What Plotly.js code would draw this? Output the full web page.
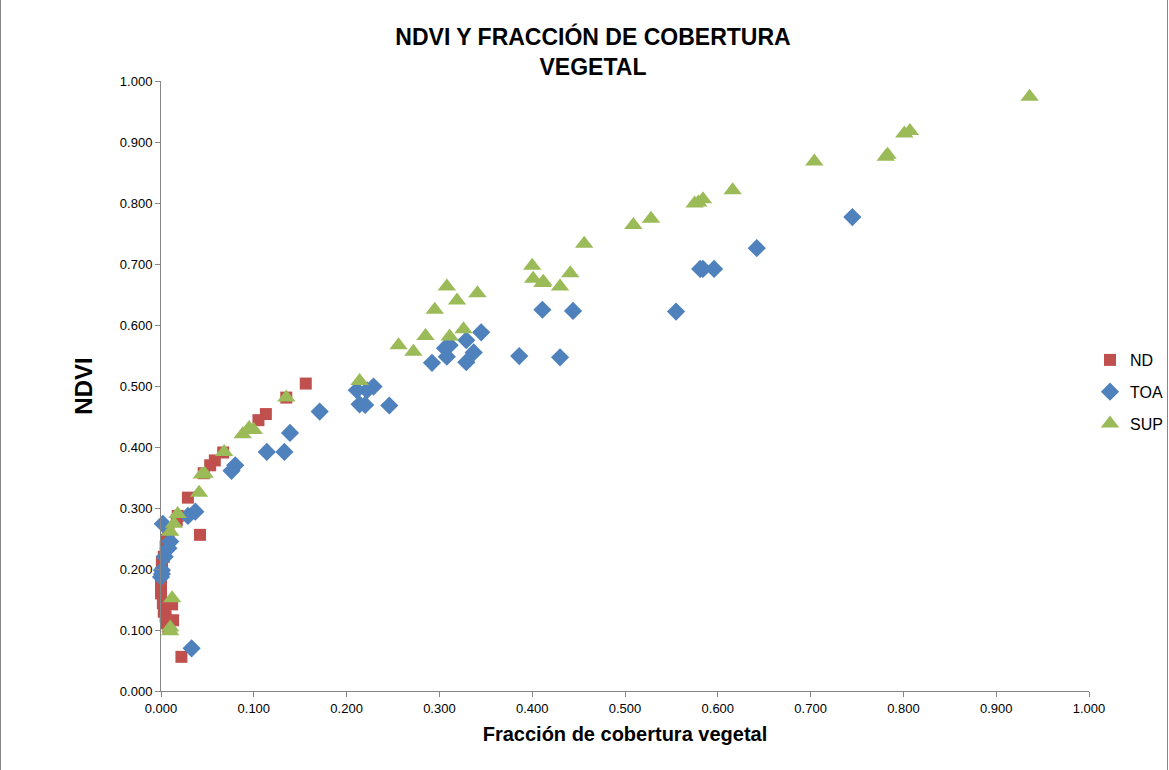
<!DOCTYPE html>
<html>
<head>
<meta charset="utf-8">
<script src="https://cdn.plot.ly/plotly-3.0.1.min.js"></script>
<style>body{margin:0;background:#fff}#chart{width:1169px;height:770px}</style>
</head>
<body>
<div id="chart"></div>
<script>
const ndX = [0.156, 0.135, 0.113, 0.105, 0.067, 0.058, 0.053, 0.046, 0.029, 0.018, 0.017, 0.042, 0.008, 0.006, 0.005, 0.003, 0.001, 0.000, 0.000, 0.000, 0.002, 0.004, 0.005, 0.006, 0.008, 0.012, 0.013, 0.022, 0.001, 0.000, 0.003];
const ndY = [0.504, 0.481, 0.454, 0.444, 0.391, 0.378, 0.370, 0.357, 0.317, 0.287, 0.280, 0.256, 0.261, 0.248, 0.237, 0.220, 0.212, 0.193, 0.177, 0.160, 0.144, 0.133, 0.122, 0.111, 0.103, 0.142, 0.116, 0.056, 0.205, 0.185, 0.130];

const toaX = [0.745, 0.642, 0.584, 0.581, 0.596, 0.555, 0.411, 0.444, 0.386, 0.430, 0.345, 0.337, 0.329, 0.329, 0.306, 0.311, 0.308, 0.292, 0.246, 0.229, 0.222, 0.211, 0.214, 0.220, 0.171, 0.139, 0.114, 0.133, 0.080, 0.076, 0.037, 0.029, 0.010, 0.008, 0.004, 0.002, 0.001, 0.000, 0.001, 0.033];
const toaY = [0.777, 0.726, 0.692, 0.692, 0.692, 0.622, 0.625, 0.623, 0.549, 0.547, 0.588, 0.555, 0.575, 0.539, 0.562, 0.567, 0.548, 0.538, 0.468, 0.499, 0.493, 0.493, 0.470, 0.469, 0.458, 0.423, 0.392, 0.392, 0.370, 0.361, 0.294, 0.287, 0.245, 0.234, 0.220, 0.274, 0.198, 0.187, 0.192, 0.070];

const supX = [0.936, 0.801, 0.807, 0.781, 0.783, 0.704, 0.616, 0.575, 0.579, 0.584, 0.528, 0.509, 0.456, 0.441, 0.430, 0.412, 0.411, 0.401, 0.400, 0.341, 0.319, 0.308, 0.295, 0.285, 0.311, 0.326, 0.272, 0.256, 0.214, 0.135, 0.095, 0.100, 0.088, 0.068, 0.047, 0.044, 0.041, 0.018, 0.014, 0.010, 0.012, 0.010, 0.010];
const supY = [0.974, 0.914, 0.918, 0.876, 0.879, 0.868, 0.821, 0.799, 0.801, 0.806, 0.774, 0.764, 0.733, 0.685, 0.663, 0.671, 0.669, 0.676, 0.697, 0.652, 0.640, 0.663, 0.625, 0.582, 0.581, 0.593, 0.556, 0.567, 0.508, 0.481, 0.431, 0.428, 0.421, 0.392, 0.356, 0.355, 0.325, 0.290, 0.274, 0.261, 0.152, 0.104, 0.098];

const titleText = "NDVI Y FRACCIÓN DE COBERTURA<br>VEGETAL";
const xTitle = "Fracción de cobertura vegetal";
const yTitle = "NDVI";
const seriesNames = ["ND", "TOA", "SUP"];

const traces = [
  {x: ndX, y: ndY, name: seriesNames[0], legendgroup: 'g1', type: 'scatter', mode: 'markers', cliponaxis: false,
   marker: {symbol: 'square', size: 12, color: '#C0504D'}},
  {x: toaX, y: toaY, name: seriesNames[1], legendgroup: 'g2', type: 'scatter', mode: 'markers', cliponaxis: false,
   marker: {symbol: 'diamond', size: 14, color: '#4F81BD'}},
  {x: supX, y: supY, name: seriesNames[2], legendgroup: 'g3', type: 'scatter', mode: 'markers', cliponaxis: false,
   marker: {symbol: 'triangle-up', size: 16, color: '#9BBB59'}}
];

const W = 1169, H = 770, L = 161, R = 80, T = 81, B = 79;
const pw = W - L - R, ph = H - T - B;

const layout = {
  width: W, height: H,
  margin: {l: L, r: R, t: T, b: B, autoexpand: false},
  paper_bgcolor: '#ffffff', plot_bgcolor: '#ffffff',
  font: {family: '"Liberation Sans", Arial, sans-serif', color: '#000000', size: 13},
  title: {text: titleText, x: 593 / W, xref: 'container', xanchor: 'center',
          y: 1 - 45 / H, yref: 'container', yanchor: 'middle',
          font: {size: 23, family: '"Liberation Sans", Arial, sans-serif', weight: 'bold', color: '#000'}},
  xaxis: {range: [0, 1], tickvals: [0,0.1,0.2,0.3,0.4,0.5,0.6,0.7,0.8,0.9,1.0], tickformat: '.3f',
          showgrid: false, zeroline: false, showline: true, linecolor: '#868686', linewidth: 1,
          ticks: 'outside', ticklen: 5, tickcolor: '#868686',
          tickfont: {size: 13},
          title: {text: xTitle, standoff: 12, font: {size: 20, weight: 'bold'}}},
  yaxis: {range: [0, 1], tickvals: [0,0.1,0.2,0.3,0.4,0.5,0.6,0.7,0.8,0.9,1.0], tickformat: '.3f',
          showgrid: false, zeroline: false, showline: true, linecolor: '#868686', linewidth: 1,
          ticks: 'outside', ticklen: 5, tickcolor: '#868686',
          tickfont: {size: 13},
          title: {text: yTitle, standoff: 20, font: {size: 24, weight: 'bold'}}},
  legend: {x: (1090 - L) / pw, xanchor: 'left', y: (H - B - 343) / ph, yanchor: 'top',
           font: {size: 16}, bgcolor: 'rgba(0,0,0,0)', tracegroupgap: 8, itemwidth: 30},
  showlegend: true,
  shapes: [{type: 'rect', xref: 'paper', yref: 'paper',
            x0: (0.5 - L) / pw, x1: (1167.5 - L) / pw,
            y0: (H - B - 775) / ph, y1: (H - B + 5) / ph,
            line: {color: '#868686', width: 1}, fillcolor: 'rgba(0,0,0,0)', layer: 'below'}]
};

Plotly.newPlot('chart', traces, layout, {displayModeBar: false});
</script>
</body>
</html>
